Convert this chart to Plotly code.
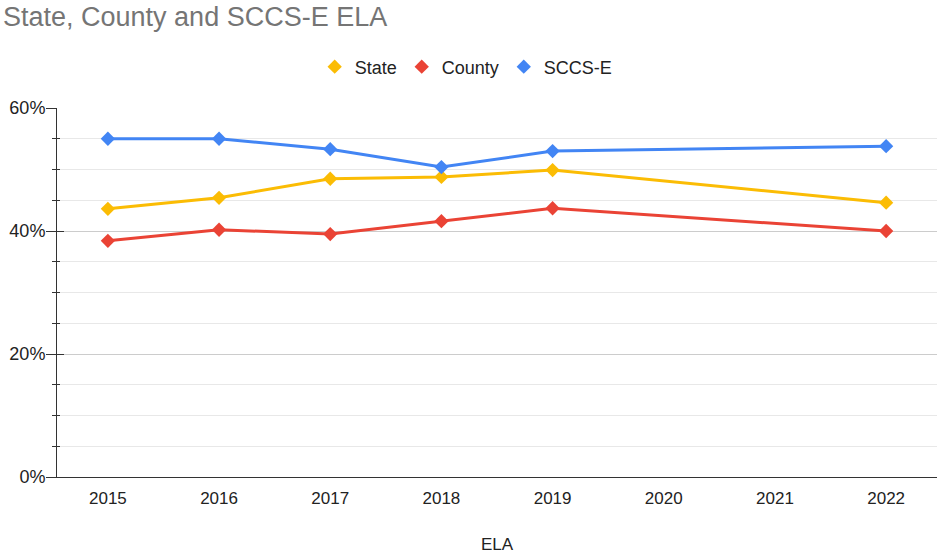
import plotly.graph_objects as go

years = ["2015", "2016", "2017", "2018", "2019", "2020", "2021", "2022"]
state = [0.436, 0.454, 0.485, 0.488, 0.499, None, None, 0.446]
county = [0.384, 0.402, 0.395, 0.416, 0.437, None, None, 0.400]
sccs = [0.550, 0.550, 0.533, 0.504, 0.530, None, None, 0.538]

series = [("State", state, "#fbbc04"), ("County", county, "#ea4335"), ("SCCS-E", sccs, "#4285f4")]

fig = go.Figure()
for name, vals, color in series:
    fig.add_trace(go.Scatter(
        x=years, y=vals, name=name, mode="lines", connectgaps=True,
        line=dict(color=color, width=3), showlegend=False, legendgroup=name,
    ))
for name, vals, color in series:
    fig.add_trace(go.Scatter(
        x=years, y=vals, name=name, mode="markers", legendgroup=name,
        marker=dict(symbol="diamond", size=11, color=color),
    ))

# invisible trace on overlay axis for crossing ticks
fig.add_trace(go.Scatter(x=years, y=state, yaxis="y2", mode="lines",
                         line=dict(width=0), showlegend=False, hoverinfo="skip", connectgaps=True))

font_family = "Liberation Sans, Arial, sans-serif"
fig.update_layout(
    width=938, height=555,
    margin=dict(l=57, r=1, t=108, b=78, autoexpand=False),
    paper_bgcolor="white", plot_bgcolor="white",
    font=dict(family=font_family, size=17, color="#222222"),
    title=dict(text="State, County and SCCS-E ELA", font=dict(size=27, color="#757575"),
               xref="container", x=3 / 938, xanchor="left", yref="container", y=1 - 7 / 555, yanchor="top",
               pad=dict(l=0, t=0)),
    legend=dict(orientation="h", xref="container", x=0.497, xanchor="center",
                yref="container", y=1 - 67 / 555, yanchor="middle",
                font=dict(size=18, color="#222222"), itemwidth=30),
    showlegend=True,
    xaxis=dict(type="category", showgrid=False, showline=True, linecolor="#333333", linewidth=1,
               ticks="", tickfont=dict(size=17, color="#222222"), automargin=False,
               ticklabelstandoff=6,
               title=dict(text="ELA", font=dict(size=17, color="#222222"), standoff=30),
               zeroline=False),
    yaxis=dict(range=[0, 0.6], dtick=0.2, tickformat=".0%", showgrid=True, gridcolor="#cccccc",
               showline=True, linecolor="#333333", linewidth=1, ticks="outside", ticklen=10,
               tickcolor="#333333", tickfont=dict(size=18, color="#222222"), zeroline=False,
               automargin=False, ticklabelstandoff=-3,
               minor=dict(dtick=0.05, showgrid=True, gridcolor="#e8e8e8", ticks="outside",
                          ticklen=4, tickcolor="#333333")),
    yaxis2=dict(overlaying="y", side="left", range=[0, 0.6], dtick=0.2, showgrid=False,
                showticklabels=False, ticks="inside", ticklen=7, tickcolor="#333333",
                zeroline=False, showline=False, automargin=False,
                minor=dict(dtick=0.05, showgrid=False, ticks="inside", ticklen=3, tickcolor="#333333")),
)

fig.write_html("out.html", config={"displayModeBar": False},
               post_script="document.body.style.margin='0';")
